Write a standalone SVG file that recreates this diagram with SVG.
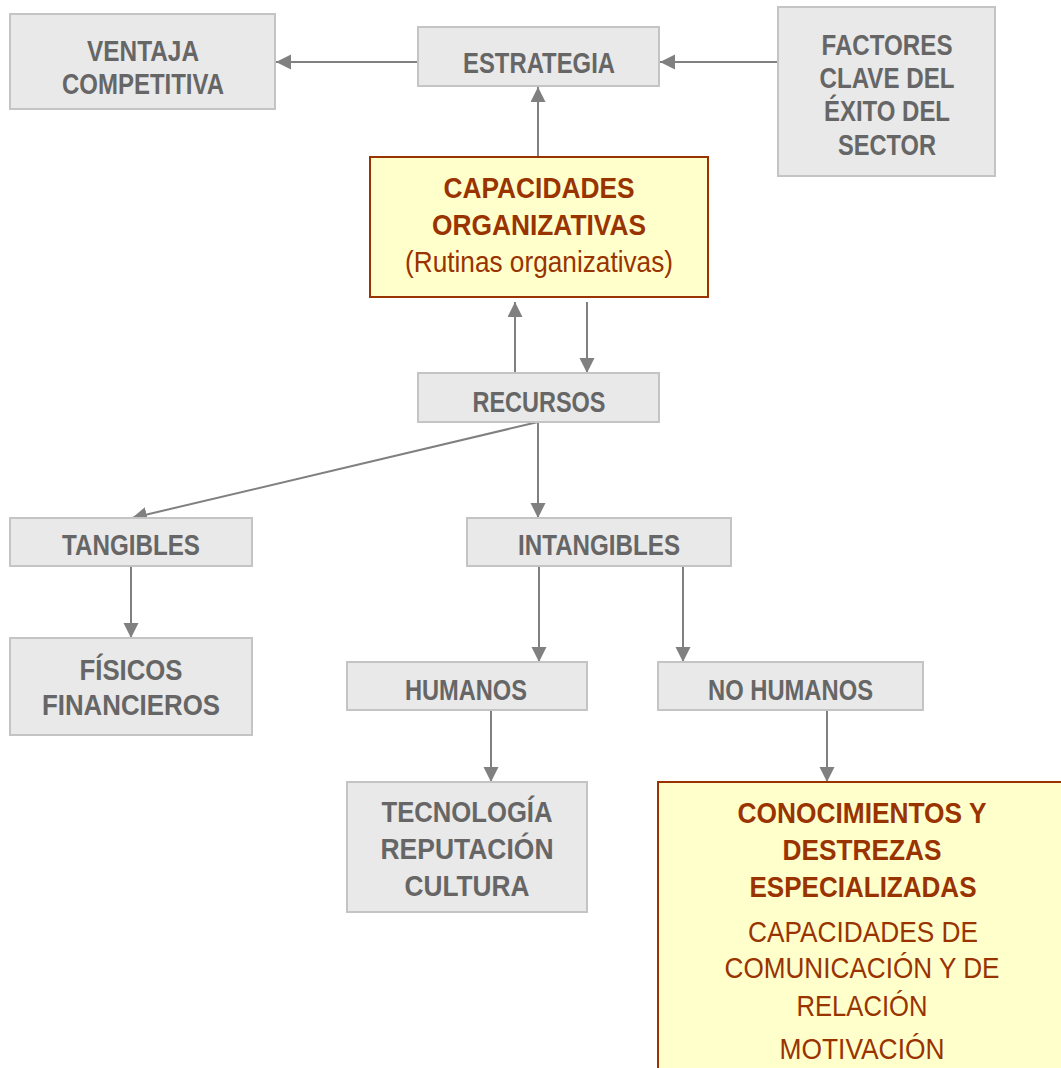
<svg xmlns="http://www.w3.org/2000/svg" width="1061" height="1068" viewBox="0 0 1061 1068">
  <style>
    .box { fill: #e9e9e9; stroke: #c4c4c4; stroke-width: 2; }
    .hl { fill: #ffffcc; stroke: #993300; stroke-width: 2; }
    .t { font-family: "Liberation Sans Narrow", "Arial Narrow", "Liberation Sans", sans-serif; font-size: 29px; text-anchor: middle; }
    .g { fill: #666666; font-weight: bold; }
    .b { fill: #993300; font-weight: bold; }
    .r { fill: #993300; font-weight: normal; }
    .edge { stroke: #808080; stroke-width: 2; fill: none; marker-end: url(#arrow); }
  </style>
  <defs>
    <marker id="arrow" markerUnits="userSpaceOnUse" markerWidth="16" markerHeight="16" refX="15" refY="7.5" orient="auto">
      <path d="M0,0 L15,7.5 L0,15 Z" fill="#808080"/>
    </marker>
  </defs>

  <g id="connectors">
    <line class="edge" x1="418" y1="62" x2="276" y2="62"/>
    <line class="edge" x1="778" y1="62" x2="660" y2="62"/>
    <line class="edge" x1="538" y1="157" x2="538" y2="87"/>
    <line class="edge" x1="515" y1="373" x2="515" y2="302"/>
    <line class="edge" x1="587" y1="302" x2="587" y2="373"/>
    <line class="edge" x1="538" y1="422" x2="132" y2="518"/>
    <line class="edge" x1="538" y1="422" x2="538" y2="518"/>
    <line class="edge" x1="539" y1="566" x2="539" y2="662"/>
    <line class="edge" x1="683" y1="566" x2="683" y2="662"/>
    <line class="edge" x1="131" y1="566" x2="131" y2="638"/>
    <line class="edge" x1="491" y1="710" x2="491" y2="782"/>
    <line class="edge" x1="827" y1="710" x2="827" y2="782"/>
  </g>

  <g id="ventaja">
    <rect class="box" x="10" y="14" width="265" height="95"/>
    <text class="t g" x="143" y="61" textLength="112" lengthAdjust="spacingAndGlyphs">VENTAJA</text>
    <text class="t g" x="143" y="94" textLength="162" lengthAdjust="spacingAndGlyphs">COMPETITIVA</text>
  </g>

  <g id="estrategia">
    <rect class="box" x="418" y="27" width="241" height="59"/>
    <text class="t g" x="539" y="73" textLength="152" lengthAdjust="spacingAndGlyphs">ESTRATEGIA</text>
  </g>

  <g id="factores">
    <rect class="box" x="778" y="7" width="217" height="169"/>
    <text class="t g" x="887" y="55" textLength="131" lengthAdjust="spacingAndGlyphs">FACTORES</text>
    <text class="t g" x="887" y="88" textLength="135" lengthAdjust="spacingAndGlyphs">CLAVE DEL</text>
    <text class="t g" x="887" y="121" textLength="126" lengthAdjust="spacingAndGlyphs">ÉXITO DEL</text>
    <text class="t g" x="887" y="155" textLength="98" lengthAdjust="spacingAndGlyphs">SECTOR</text>
  </g>

  <g id="capacidades">
    <rect class="hl" x="370" y="157" width="338" height="140"/>
    <text class="t b" x="539" y="198" textLength="191" lengthAdjust="spacingAndGlyphs">CAPACIDADES</text>
    <text class="t b" x="539" y="235" textLength="214" lengthAdjust="spacingAndGlyphs">ORGANIZATIVAS</text>
    <text class="t r" x="539" y="272" textLength="268" lengthAdjust="spacingAndGlyphs">(Rutinas organizativas)</text>
  </g>

  <g id="recursos">
    <rect class="box" x="418" y="373" width="241" height="49"/>
    <text class="t g" x="539" y="412" textLength="133" lengthAdjust="spacingAndGlyphs">RECURSOS</text>
  </g>

  <g id="tangibles">
    <rect class="box" x="10" y="518" width="242" height="48"/>
    <text class="t g" x="131" y="555" textLength="138" lengthAdjust="spacingAndGlyphs">TANGIBLES</text>
  </g>

  <g id="intangibles">
    <rect class="box" x="467" y="518" width="264" height="48"/>
    <text class="t g" x="599" y="555" textLength="162" lengthAdjust="spacingAndGlyphs">INTANGIBLES</text>
  </g>

  <g id="fisicos">
    <rect class="box" x="10" y="638" width="242" height="97"/>
    <text class="t g" x="131" y="680" textLength="103" lengthAdjust="spacingAndGlyphs">FÍSICOS</text>
    <text class="t g" x="131" y="715" textLength="178" lengthAdjust="spacingAndGlyphs">FINANCIEROS</text>
  </g>

  <g id="humanos">
    <rect class="box" x="347" y="662" width="240" height="48"/>
    <text class="t g" x="466" y="700" textLength="122" lengthAdjust="spacingAndGlyphs">HUMANOS</text>
  </g>

  <g id="no-humanos">
    <rect class="box" x="658" y="662" width="265" height="48"/>
    <text class="t g" x="790.5" y="700" textLength="165" lengthAdjust="spacingAndGlyphs">NO HUMANOS</text>
  </g>

  <g id="tecnologia">
    <rect class="box" x="347" y="782" width="240" height="130"/>
    <text class="t g" x="467" y="822" textLength="171" lengthAdjust="spacingAndGlyphs">TECNOLOGÍA</text>
    <text class="t g" x="467" y="859" textLength="173" lengthAdjust="spacingAndGlyphs">REPUTACIÓN</text>
    <text class="t g" x="467" y="896" textLength="125" lengthAdjust="spacingAndGlyphs">CULTURA</text>
  </g>

  <g id="conocimientos">
    <rect class="hl" x="658" y="782" width="408" height="300"/>
    <text class="t b" x="862" y="823" textLength="249" lengthAdjust="spacingAndGlyphs">CONOCIMIENTOS Y</text>
    <text class="t b" x="862" y="860" textLength="159" lengthAdjust="spacingAndGlyphs">DESTREZAS</text>
    <text class="t b" x="863" y="897" textLength="227" lengthAdjust="spacingAndGlyphs">ESPECIALIZADAS</text>
    <text class="t r" x="863" y="942" textLength="230" lengthAdjust="spacingAndGlyphs">CAPACIDADES DE</text>
    <text class="t r" x="862" y="978" textLength="275" lengthAdjust="spacingAndGlyphs">COMUNICACIÓN Y DE</text>
    <text class="t r" x="862" y="1016" textLength="131" lengthAdjust="spacingAndGlyphs">RELACIÓN</text>
    <text class="t r" x="862" y="1059" textLength="165" lengthAdjust="spacingAndGlyphs">MOTIVACIÓN</text>
  </g>
</svg>
